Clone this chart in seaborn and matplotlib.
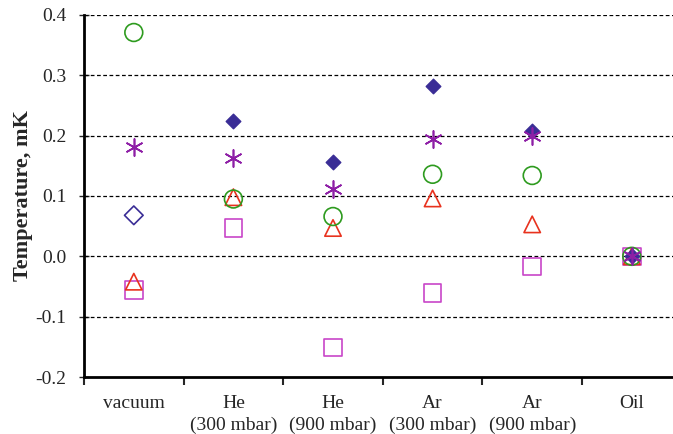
import matplotlib
matplotlib.use("Agg")
import matplotlib.pyplot as plt
import seaborn as sns
import pandas as pd

categories = ["vacuum", "He\n(300 mbar)", "He\n(900 mbar)", "Ar\n(300 mbar)", "Ar\n(900 mbar)", "Oil"]
diamond_open = [0.068, None, None, None, None, None]
diamond_filled = [None, 0.225, 0.157, 0.283, 0.207, 0.0]
asterisk = [0.181, 0.163, 0.111, 0.194, 0.200, 0.0]
circle = [0.371, 0.095, 0.066, 0.136, 0.134, 0.0]
triangle = [-0.042, 0.098, 0.047, 0.096, 0.053, 0.0]
square = [-0.056, 0.047, -0.151, -0.061, -0.017, 0.0]
yticks = [-0.2, -0.1, 0.0, 0.1, 0.2, 0.3, 0.4]

sns.set_style("white")
plt.rcParams['font.family'] = ['Liberation Serif', 'DejaVu Serif']

fig = plt.figure(figsize=(6.73, 4.34), dpi=100)
ax = fig.add_axes([84/673, 1 - 377/434, 597.6/673, (377-15)/434])

pos = {c: i for i, c in enumerate(categories)}

def draw(vals, marker, size, face, edge, lw, z):
    d = pd.DataFrame({"cat": categories, "val": vals}).dropna()
    d["x"] = d["cat"].map(pos)
    sns.scatterplot(data=d, x="x", y="val", marker=marker, s=size, facecolor=face,
                    edgecolor=edge, linewidth=lw, ax=ax, zorder=z)

draw(square, "s", 160, "none", "#C846C8", 1.2, 3)
draw(triangle, "^", 140, "none", "#E8321E", 1.2, 4)
draw(circle, "o", 165, "none", "#2E9B1F", 1.2, 5)
draw(diamond_filled, "D", 55, "#3A2D96", "#3A2D96", 1.0, 6)
draw(diamond_open, "D", 90, "none", "#3A2D96", 1.2, 6)
draw(asterisk, (6, 2, 0), 150, "#8E1FA6", "#8E1FA6", 1.2, 7)

ax.set_xlim(-0.5, 5.5)
ax.set_ylim(-0.2, 0.4)
ax.set_yticks(yticks)
ax.set_yticklabels([f"{v:.1f}" for v in yticks], fontsize=14)
for v in yticks[1:]:
    ax.axhline(v, color="black", linestyle=(0, (3, 2)), linewidth=0.9, zorder=1)

ax.set_xticks([i - 0.5 for i in range(6)])
ax.set_xticklabels([])
ax.set_xticks(range(6), minor=True)
ax.set_xticklabels(categories, minor=True, fontsize=14, linespacing=1.35)
ax.tick_params(axis="x", which="major", direction="out", length=6, width=1.5, bottom=True)
ax.tick_params(axis="x", which="minor", length=0, pad=13)
ax.tick_params(axis="y", direction="inout", length=7, width=1.0, left=True, pad=9)

for s in ["top", "right"]:
    ax.spines[s].set_visible(False)
ax.spines["left"].set_linewidth(2)
ax.spines["bottom"].set_linewidth(2)
ax.spines["left"].set_color("black")
ax.spines["bottom"].set_color("black")

ax.set_xlabel("")
ax.set_ylabel("Temperature, mK", fontsize=16, fontweight="bold", labelpad=2)
ax.grid(False)

fig.savefig("out.png", dpi=100)
